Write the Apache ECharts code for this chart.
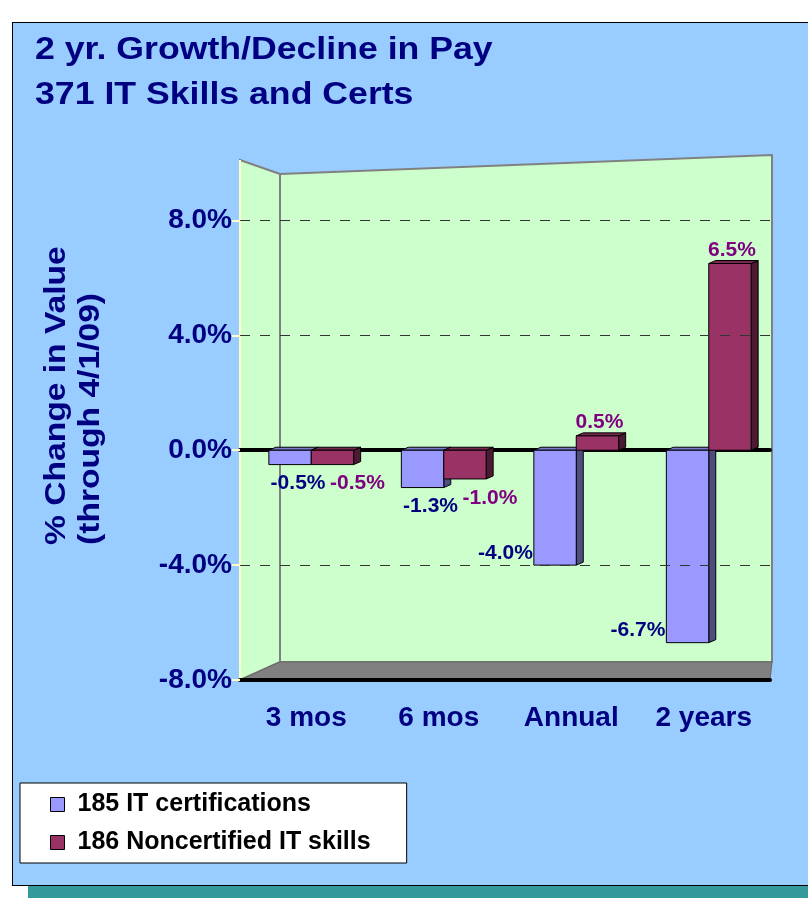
<!DOCTYPE html>
<html>
<head>
<meta charset="utf-8">
<script src="https://cdn.jsdelivr.net/npm/echarts@6/dist/echarts.min.js"></script>
<style>
	body { margin: 0; background: #ffffff; }
	.shadow { position: absolute; left: 28px; top: 38px; width: 800px; height: 860px; background: #339999; }
	.frame { position: absolute; left: 12px; top: 22px; width: 800px; height: 862px; background: #99ccff; border: 1px solid #000; }
	#chart { position: absolute; left: 0; top: 0; width: 808px; height: 898px; }
</style>
</head>
<body>
<div class="shadow"></div>
<div class="frame"></div>
<div id="chart"></div>
<script>
	// data
	var categories = ['3 mos', '6 mos', 'Annual', '2 years'];
	var certValues = [-0.5, -1.3, -4.0, -6.7];
	var noncertValues = [-0.5, -1.0, 0.5, 6.5];
	var seriesNames = ['185 IT certifications', '186 Noncertified IT skills'];
	var yTicks = [-8, -4, 0, 4, 8];

	// layout
	var GRID_LEFT = 240, GRID_RIGHT = 38, GRID_TOP = 163, GRID_BOTTOM = 218;
	var FRONT = ['#9999ff', '#993366'];
	var SIDE = ['#4d4d80', '#4d1a33'];
	var TOP = ['#7a7acc', '#7a2952'];
	var LABEL = ['#000080', '#800080'];
	var FONT = '"Liberation Sans", Arial, sans-serif';

	var chart = echarts.init(document.getElementById('chart'));

	// bar with a little 3d side/top face, label placed like the excel original
	function renderBar(s) {
		return function (params, api) {
			var idx = api.value(0);
			var val = api.value(1);
			var catW = api.size([1, 0])[0];
			var barW = catW * 0.32;
			var center = api.coord([idx, 0]);
			var end = api.coord([idx, val]);
			var x0 = center[0] - barW + s * barW + 5;
			var x1 = x0 + barW;
			var yTop = Math.min(center[1], end[1]);
			var yBot = Math.max(center[1], end[1]);
			var dx = 7, dy = -3;
			var style = { stroke: '#000', lineWidth: 1 };
			var txt = val.toFixed(1) + '%';
			var label;
			if (val >= 0) {
				label = { x: (x0 + x1) / 2 + 2, y: yTop - 3, align: 'center', valign: 'bottom' };
			} else if (val <= -3) {
				label = { x: x0 - 1, y: yBot - 12, align: 'right', valign: 'middle' };
			} else {
				label = { x: (x0 + x1) / 2 + (s === 0 ? 8 : 25), y: yBot + 19, align: 'center', valign: 'middle' };
			}
			return {
				type: 'group',
				children: [
					{ type: 'polygon', shape: { points: [[x1, yTop], [x1 + dx, yTop + dy], [x1 + dx, yBot + dy], [x1, yBot]] },
						style: Object.assign({ fill: SIDE[s] }, style) },
					{ type: 'polygon', shape: { points: [[x0, yTop], [x0 + dx, yTop + dy], [x1 + dx, yTop + dy], [x1, yTop]] },
						style: Object.assign({ fill: TOP[s] }, style) },
					{ type: 'rect', shape: { x: x0, y: yTop, width: barW, height: yBot - yTop },
						style: Object.assign({ fill: FRONT[s] }, style) },
					{ type: 'text', z2: 10, style: { x: label.x, y: label.y, text: txt, align: label.align, verticalAlign: label.valign,
						fill: LABEL[s], font: 'bold 21px ' + FONT } }
				]
			};
		};
	}

	function toData(arr) {
		return arr.map(function (v, i) { return [i, v]; });
	}

	var gridLines = yTicks.filter(function (v) { return v !== 0 && v !== yTicks[0]; })
		.map(function (v) { return { yAxis: v }; });

	var wallLeft = GRID_LEFT, wallBack = GRID_LEFT + 40, wallRight = 808 - GRID_RIGHT;
	var floorY = 898 - GRID_BOTTOM;

	chart.setOption({
		animation: false,
		legend: {
			orient: 'vertical',
			left: 20,
			top: 783,
			data: seriesNames,
			icon: 'rect',
			itemWidth: 14,
			itemHeight: 14,
			itemGap: 13,
			padding: [9, 36, 8, 30],
			backgroundColor: '#ffffff',
			borderColor: '#000',
			borderWidth: 1,
			borderRadius: 0,
			itemStyle: { borderColor: '#000', borderWidth: 1 },
			textStyle: { color: '#000', fontSize: 25, fontWeight: 'bold', fontFamily: 'Liberation Sans', padding: [0, 0, 0, 8] }
		},
		graphic: [
			{ type: 'polygon', z: -1, shape: { points: [[wallLeft, 160], [wallBack, 174], [wallBack, floorY - 18], [wallLeft, floorY]] },
				style: { fill: '#ccffcc', stroke: '#808080', lineWidth: 2 } },
			{ type: 'polygon', z: -1, shape: { points: [[wallBack, 174], [wallRight + 2, 155], [wallRight + 2, floorY - 18], [wallBack, floorY - 18]] },
				style: { fill: '#ccffcc', stroke: '#808080', lineWidth: 2 } },
			{ type: 'polygon', z: -1, shape: { points: [[wallLeft, floorY], [wallBack, floorY - 18], [wallRight + 2, floorY - 18], [wallRight, floorY]] },
				style: { fill: '#808080', stroke: '#666', lineWidth: 1 } },
			{ type: 'line', z: -1, shape: { x1: wallLeft, y1: 160, x2: wallLeft, y2: floorY }, style: { stroke: '#ffffcc', lineWidth: 2 } },
			{ type: 'text', x: 35, y: 28, scaleX: 1.15, style: {
				text: '2 yr. Growth/Decline in Pay\n371 IT Skills and Certs',
				font: 'bold 31px ' + FONT, lineHeight: 45, fill: '#000080' } },
			{ type: 'text', x: 40, y: 545, rotation: Math.PI / 2, scaleX: 1.12, style: {
				text: '% Change in Value\n(through 4/1/09)',
				font: 'bold 30px ' + FONT, lineHeight: 34, fill: '#000080', align: 'left', verticalAlign: 'top' } }
		],
		grid: { left: GRID_LEFT, right: GRID_RIGHT, top: GRID_TOP, bottom: GRID_BOTTOM },
		xAxis: [{
			type: 'category',
			data: categories,
			position: 'bottom',
			axisLine: { onZero: false, lineStyle: { color: '#000', width: 4 } },
			axisTick: { length: 10, lineStyle: { color: '#000', width: 3 } },
			axisLabel: { color: '#000080', fontSize: 28, fontWeight: 'bold', margin: 24, fontFamily: 'Liberation Sans' }
		}, {
			// the thick zero line with its ticks
			type: 'category',
			data: categories,
			position: 'top',
			axisLine: { onZero: true, lineStyle: { color: '#000', width: 4 } },
			axisTick: { inside: true, length: 9, lineStyle: { color: '#000', width: 3 } },
			axisLabel: { show: false }
		}],
		yAxis: {
			type: 'value',
			min: -8,
			max: 10,
			interval: 4,
			axisLine: { show: false },
			axisTick: { show: true, length: 8, lineStyle: { color: '#ffffcc', width: 2 } },
			splitLine: { show: false },
			axisLabel: {
				showMaxLabel: false,
				margin: 8,
				color: '#000080',
				fontSize: 28,
				fontWeight: 'bold',
				fontFamily: 'Liberation Sans',
				formatter: function (v) { return v.toFixed(1) + '%'; }
			}
		},
		series: [{
			name: seriesNames[0],
			type: 'custom',
			xAxisIndex: 0,
			itemStyle: { color: FRONT[0] },
			renderItem: renderBar(0),
			data: toData(certValues),
			markLine: {
				silent: true,
				symbol: 'none',
				label: { show: false },
				lineStyle: { color: '#333', type: [10, 10], width: 1 },
				data: gridLines
			},
			z: 3
		}, {
			name: seriesNames[1],
			type: 'custom',
			xAxisIndex: 0,
			itemStyle: { color: FRONT[1] },
			renderItem: renderBar(1),
			data: toData(noncertValues),
			z: 4
		}]
	});
</script>
</body>
</html>
